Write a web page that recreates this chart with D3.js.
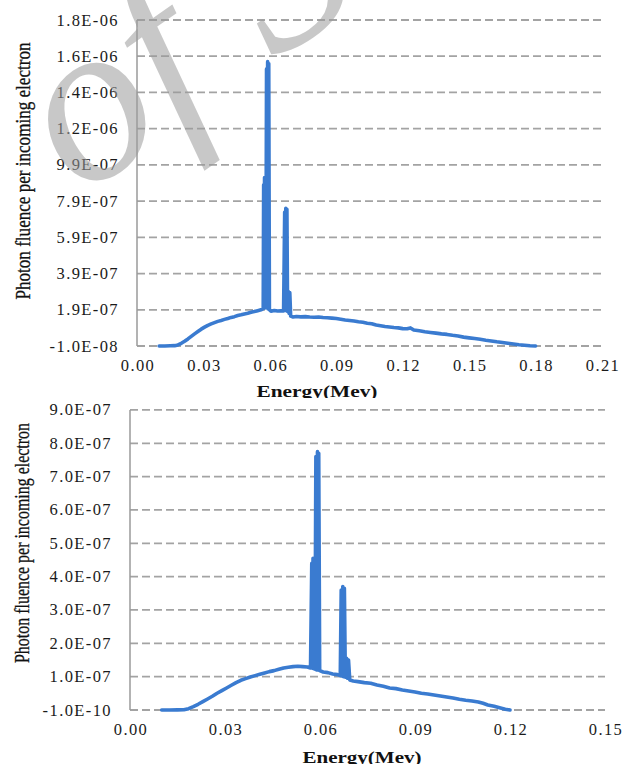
<!DOCTYPE html>
<html>
<head>
<meta charset="utf-8">
<script src="https://cdn.jsdelivr.net/npm/d3@7"></script>
<style>
  html, body { margin: 0; padding: 0; background: #fff; }
  svg { display: block; }
  .tick-label { font-family: "Liberation Serif", "Times New Roman", serif; font-size: 16.5px; fill: #1a1a1a; letter-spacing: 1.4px; }
  .axis-title { font-family: "Liberation Serif", "Times New Roman", serif; fill: #111; }
</style>
</head>
<body>
<div id="chart"></div>
<script>
// ---- top panel data ----
const energyTop = [
  0.0100, 0.0125, 0.0150, 0.0170, 0.0185, 0.0200, 0.0215, 0.0230, 0.0245, 0.0260,
  0.0275, 0.0290, 0.0305, 0.0320, 0.0335, 0.0350, 0.0365, 0.0380, 0.0395, 0.0410,
  0.0425, 0.0440, 0.0455, 0.0470, 0.0485, 0.0500, 0.0515, 0.0530, 0.0545, 0.0560,
  0.0570, 0.0572, 0.0574, 0.0576, 0.0578, 0.0580, 0.0582, 0.0585, 0.0587, 0.0590,
  0.0592, 0.0595, 0.0598, 0.0605, 0.0620, 0.0635, 0.0650, 0.0662, 0.0667, 0.0669,
  0.0672, 0.0674, 0.0677, 0.0680, 0.0684, 0.0687, 0.0690, 0.0694, 0.0705, 0.0720,
  0.0740, 0.0760, 0.0780, 0.0800, 0.0820, 0.0840, 0.0860, 0.0880, 0.0900, 0.0920,
  0.0940, 0.0960, 0.0980, 0.1000, 0.1020, 0.1040, 0.1060, 0.1080, 0.1100, 0.1120,
  0.1140, 0.1160, 0.1180, 0.1200, 0.1220, 0.1235, 0.1250, 0.1275, 0.1300, 0.1325,
  0.1350, 0.1375, 0.1400, 0.1425, 0.1450, 0.1475, 0.1500, 0.1525, 0.1550, 0.1575,
  0.1600, 0.1625, 0.1650, 0.1675, 0.1700, 0.1725, 0.1750, 0.1775, 0.1800
];
const fluenceTop = [
  -0.10e-7, -0.10e-7, -0.09e-7, -0.08e-7, -0.04e-7, 0.05e-7, 0.16e-7, 0.29e-7, 0.43e-7, 0.57e-7,
  0.70e-7, 0.83e-7, 0.94e-7, 1.04e-7, 1.12e-7, 1.19e-7, 1.26e-7, 1.31e-7, 1.37e-7, 1.42e-7,
  1.48e-7, 1.52e-7, 1.58e-7, 1.62e-7, 1.67e-7, 1.71e-7, 1.76e-7, 1.80e-7, 1.85e-7, 1.90e-7,
  1.96e-7, 8.80e-7, 2.05e-7, 9.20e-7, 2.00e-7, 9.00e-7, 2.10e-7, 15.20e-7, 2.00e-7, 15.60e-7,
  1.95e-7, 15.50e-7, 1.90e-7, 1.82e-7, 1.86e-7, 1.83e-7, 1.85e-7, 1.84e-7, 7.30e-7, 1.90e-7,
  7.50e-7, 1.85e-7, 7.45e-7, 1.80e-7, 2.90e-7, 1.70e-7, 2.85e-7, 1.55e-7, 1.50e-7, 1.53e-7,
  1.51e-7, 1.52e-7, 1.50e-7, 1.49e-7, 1.50e-7, 1.47e-7, 1.46e-7, 1.44e-7, 1.42e-7, 1.38e-7,
  1.34e-7, 1.31e-7, 1.28e-7, 1.24e-7, 1.21e-7, 1.16e-7, 1.13e-7, 1.06e-7, 1.02e-7, 0.98e-7,
  0.95e-7, 0.92e-7, 0.90e-7, 0.86e-7, 0.85e-7, 0.90e-7, 0.78e-7, 0.74e-7, 0.69e-7, 0.65e-7,
  0.61e-7, 0.57e-7, 0.54e-7, 0.49e-7, 0.45e-7, 0.39e-7, 0.35e-7, 0.31e-7, 0.27e-7, 0.22e-7,
  0.18e-7, 0.13e-7, 0.09e-7, 0.05e-7, 0.01e-7, -0.03e-7, -0.06e-7, -0.09e-7, -0.10e-7
];
const xTicksTop = [0, 0.03, 0.06, 0.09, 0.12, 0.15, 0.18, 0.21];
const yTicksTop = [-1.0e-8, 1.9e-7, 3.9e-7, 5.9e-7, 7.9e-7, 9.9e-7, 1.19e-6, 1.39e-6, 1.59e-6, 1.79e-6];
const yLabelsTop = ["-1.0E-08", "1.9E-07", "3.9E-07", "5.9E-07", "7.9E-07", "9.9E-07",
                    "1.2E-06", "1.4E-06", "1.6E-06", "1.8E-06"];

// ---- bottom panel data ----
const energyBottom = [
  0.0100, 0.0125, 0.0150, 0.0170, 0.0185, 0.0200, 0.0215, 0.0230, 0.0245, 0.0260,
  0.0275, 0.0290, 0.0305, 0.0320, 0.0335, 0.0350, 0.0365, 0.0380, 0.0395, 0.0410,
  0.0425, 0.0440, 0.0455, 0.0470, 0.0485, 0.0500, 0.0515, 0.0530, 0.0545, 0.0560,
  0.0570, 0.0574, 0.0576, 0.0578, 0.0580, 0.0582, 0.0584, 0.0587, 0.0589, 0.0592,
  0.0594, 0.0596, 0.0599, 0.0610, 0.0625, 0.0640, 0.0655, 0.0664, 0.0667, 0.0669,
  0.0672, 0.0674, 0.0677, 0.0680, 0.0684, 0.0687, 0.0690, 0.0694, 0.0705, 0.0720,
  0.0740, 0.0760, 0.0780, 0.0800, 0.0820, 0.0840, 0.0860, 0.0880, 0.0900, 0.0920,
  0.0940, 0.0960, 0.0980, 0.1000, 0.1020, 0.1040, 0.1060, 0.1080, 0.1100, 0.1115,
  0.1130, 0.1150, 0.1170, 0.1185, 0.1200
];
const fluenceBottom = [
  0.000e-7, 0.000e-7, 0.002e-7, 0.005e-7, 0.04e-7, 0.10e-7, 0.17e-7, 0.25e-7, 0.33e-7, 0.41e-7,
  0.50e-7, 0.58e-7, 0.66e-7, 0.74e-7, 0.82e-7, 0.89e-7, 0.94e-7, 0.99e-7, 1.03e-7, 1.07e-7,
  1.11e-7, 1.15e-7, 1.18e-7, 1.22e-7, 1.26e-7, 1.28e-7, 1.30e-7, 1.31e-7, 1.30e-7, 1.29e-7,
  1.26e-7, 4.40e-7, 1.25e-7, 4.55e-7, 1.24e-7, 4.50e-7, 1.22e-7, 7.60e-7, 1.20e-7, 7.75e-7,
  1.20e-7, 7.70e-7, 1.18e-7, 1.14e-7, 1.12e-7, 1.08e-7, 1.06e-7, 1.03e-7, 3.60e-7, 1.02e-7,
  3.70e-7, 1.00e-7, 3.65e-7, 0.98e-7, 1.55e-7, 0.95e-7, 1.50e-7, 0.90e-7, 0.87e-7, 0.85e-7,
  0.82e-7, 0.80e-7, 0.75e-7, 0.71e-7, 0.66e-7, 0.64e-7, 0.60e-7, 0.57e-7, 0.54e-7, 0.50e-7,
  0.48e-7, 0.45e-7, 0.42e-7, 0.39e-7, 0.36e-7, 0.32e-7, 0.29e-7, 0.27e-7, 0.24e-7, 0.20e-7,
  0.15e-7, 0.11e-7, 0.06e-7, 0.02e-7, 0.00e-7
];
const xTicksBottom = [0, 0.03, 0.06, 0.09, 0.12, 0.15];
const yTicksBottom = [-1.0e-10, 1.0e-7, 2.0e-7, 3.0e-7, 4.0e-7, 5.0e-7, 6.0e-7, 7.0e-7, 8.0e-7, 9.0e-7];
const yLabelsBottom = ["-1.0E-10", "1.0E-07", "2.0E-07", "3.0E-07", "4.0E-07", "5.0E-07",
                       "6.0E-07", "7.0E-07", "8.0E-07", "9.0E-07"];

const W = 625, H = 764;
const lineColor = "#3a7bd0";
const gridColor = "#a3a3a3";

const svg = d3.select("#chart").append("svg")
    .attr("width", W)
    .attr("height", H);

svg.append("rect").attr("width", W).attr("height", H).attr("fill", "#fff");

function drawPanel(p) {
    let g = svg.append("g");

    // white backing (the lower panel hides the descenders of the title above)
    if (p.backing) {
        g.append("rect")
            .attr("x", 0).attr("y", p.backing[0])
            .attr("width", W).attr("height", p.backing[1] - p.backing[0])
            .attr("fill", "#fff");
    }

    let x = d3.scaleLinear().domain(p.xDomain).range([p.left, p.right]);
    let y = d3.scaleLinear().domain(p.yDomain).range([p.bottom, p.top]);

    // dashed horizontal gridlines
    g.append("g").selectAll("line")
        .data(p.yTicks)
        .enter().append("line")
        .attr("x1", p.left)
        .attr("x2", p.right)
        .attr("y1", (d) => y(d))
        .attr("y2", (d) => y(d))
        .attr("stroke", gridColor)
        .attr("stroke-width", 1.8)
        .attr("stroke-dasharray", "8,4");

    // vertical axis line
    g.append("line")
        .attr("x1", p.left).attr("x2", p.left)
        .attr("y1", y(p.yDomain[1])).attr("y2", y(p.yDomain[0]))
        .attr("stroke", "#9a9a9a")
        .attr("stroke-width", 1.5);

    // y tick labels
    g.append("g").selectAll("text")
        .data(p.yTicks)
        .enter().append("text")
        .attr("class", "tick-label")
        .attr("x", p.left - 18)
        .attr("y", (d) => y(d) + 5.5)
        .attr("text-anchor", "end")
        .text((d, i) => p.yLabels[i]);

    // x tick labels
    g.append("g").selectAll("text")
        .data(p.xTicks)
        .enter().append("text")
        .attr("class", "tick-label")
        .attr("x", (d) => x(d) + 1)
        .attr("y", p.xLabelY)
        .attr("text-anchor", "middle")
        .text((d) => d3.format(".2f")(d));

    // spectrum
    let pts = p.energy.map((e, i) => [e, p.fluence[i]]);
    let line = d3.line()
        .x((d) => x(d[0]))
        .y((d) => y(d[1]));
    g.append("path")
        .datum(pts)
        .attr("d", line)
        .attr("fill", "none")
        .attr("stroke", lineColor)
        .attr("stroke-width", 3.6)
        .attr("stroke-linejoin", "round")
        .attr("stroke-linecap", "round");

    // axis titles
    g.append("text")
        .attr("class", "axis-title")
        .attr("x", p.xTitle[0])
        .attr("y", p.xTitle[1])
        .attr("text-anchor", "middle")
        .attr("font-weight", "bold")
        .attr("font-size", 17)
        .attr("textLength", p.xTitle[2])
        .attr("lengthAdjust", "spacingAndGlyphs")
        .text("Energy(Mev)");

    g.append("text")
        .attr("class", "axis-title")
        .attr("transform", "translate(" + p.yTitle[0] + "," + p.yTitle[1] + ") rotate(-90)")
        .attr("text-anchor", "middle")
        .attr("font-size", 20)
        .attr("stroke", "#111")
        .attr("stroke-width", 0.3)
        .attr("textLength", p.yTitle[2])
        .attr("lengthAdjust", "spacingAndGlyphs")
        .text("Photon fluence per incoming electron");
}

drawPanel({
    energy: energyTop, fluence: fluenceTop,
    xDomain: [0, 0.21], yDomain: [-1.0e-8, 1.79e-6],
    left: 137, right: 602, top: 20, bottom: 346,
    xTicks: xTicksTop, yTicks: yTicksTop, yLabels: yLabelsTop,
    xLabelY: 371,
    xTitle: [317, 397, 121],
    yTitle: [30, 171, 257]
});

drawPanel({
    energy: energyBottom, fluence: fluenceBottom,
    xDomain: [0, 0.15], yDomain: [-1.0e-10, 8.999e-7],
    left: 130, right: 605, top: 410, bottom: 710,
    xTicks: xTicksBottom, yTicks: yTicksBottom, yLabels: yLabelsBottom,
    xLabelY: 735,
    xTitle: [362, 763, 119],
    yTitle: [29, 543, 240],
    backing: [398, H]
});

// faint proof watermark over the upper left corner
svg.append("text")
    .attr("transform", "translate(80,198) rotate(-35)")
    .attr("font-family", "Liberation Serif, serif")
    .attr("font-style", "italic")
    .attr("font-size", 230)
    .attr("fill", "#9a9a9a")
    .attr("fill-opacity", 0.55)
    .text("of S");
</script>
</body>
</html>
